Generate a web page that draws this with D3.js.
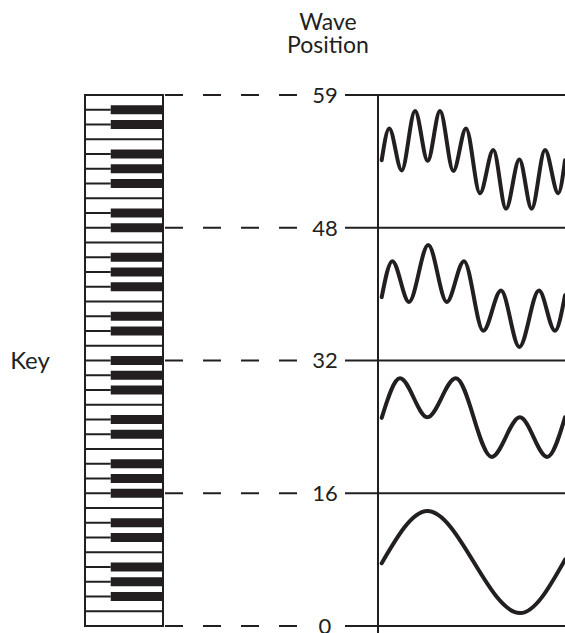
<!DOCTYPE html>
<html>
<head>
<meta charset="UTF-8" />
<script src="https://d3js.org/d3.v7.min.js"></script>
<style>
  html, body { margin: 0; padding: 0; background: #fff; }
  svg { display: block; }
  text { font-family: Lato, "Open Sans", sans-serif; fill: #231f20; }
</style>
</head>
<body>
<div id="chart"></div>
<script>
// wave position ticks, top to bottom
const tickLabels = [59, 48, 32, 16, 0];

// keyboard: 5 octaves starting on E, plus a closing E
const octaveNotes = ['E', 'F', 'F#', 'G', 'G#', 'A', 'A#', 'B', 'C', 'C#', 'D', 'D#'];
const octaveCount = 5;

// waveforms (extrema), one per panel, top to bottom
const wave1U = [0, 4.1, 10.9, 18.2, 25.1, 31.8, 39.1, 46.0, 53.6, 60.9, 67.8, 75.1, 81.8, 89.1, 96.3, 100];
const wave1V = [0.02, 0.55, -0.15, 0.84, 0.01, 0.84, -0.16, 0.55, -0.53, 0.19, -0.79, 0.03, -0.79, 0.19, -0.53, 0.02];
const wave2U = [0, 5.8, 14.9, 25.4, 35.5, 44.9, 55.4, 65.1, 75.1, 85.8, 94.5, 100];
const wave2V = [-0.05, 0.55, -0.13, 0.82, -0.13, 0.55, -0.61, 0.06, -0.88, 0.06, -0.61, -0.02];
const wave3U = [0, 10.0, 24.9, 40.4, 60.0, 75.4, 90.3, 100];
const wave3V = [0.15, 0.81, 0.16, 0.81, -0.50, 0.16, -0.50, 0.16];
const wave4U = [0, 24.9, 75.5, 100];
const wave4V = [-0.06, 0.81, -0.89, 0.0];

const waves = [[wave1U, wave1V], [wave2U, wave2V], [wave3U, wave3V], [wave4U, wave4V]];

const width = 565, height = 633;
const ink = '#231f20';

const svg = d3.select('#chart').append('svg')
  .attr('width', width).attr('height', height);

const yTick = d3.scalePoint().domain(tickLabels).range([95, 626]);

// ---- keyboard ----
const keys = [];
for (let o = 0; o < octaveCount; o++) octaveNotes.forEach(n => keys.push(n));
keys.push('E');

const blackAt = [];
let w = -1;
keys.forEach(n => {
  if (n.includes('#')) blackAt.push(w + 1);
  else w++;
});
const whiteCount = w + 1;

const yKey = d3.scaleLinear().domain([0, whiteCount]).range([626, 95]);
const xKey = d3.scaleLinear().domain([0, 1]).range([85, 163]);
const blackStart = 0.33, blackH = 9;

const kb = svg.append('g');
kb.append('rect')
  .attr('x', xKey(0)).attr('y', yKey(whiteCount))
  .attr('width', xKey(1) - xKey(0)).attr('height', yKey(0) - yKey(whiteCount))
  .attr('fill', 'none').attr('stroke', ink).attr('stroke-width', 2);

const boundaries = d3.range(1, whiteCount);
kb.selectAll('.wline').data(boundaries).join('line')
  .attr('x1', xKey(0))
  .attr('x2', d => blackAt.includes(d) ? xKey(blackStart) : xKey(1))
  .attr('y1', d => yKey(d)).attr('y2', d => yKey(d))
  .attr('stroke', ink).attr('stroke-width', 2);

kb.selectAll('.bkey').data(blackAt).join('rect')
  .attr('x', xKey(blackStart)).attr('width', xKey(1) - xKey(blackStart))
  .attr('y', d => yKey(d) - blackH / 2).attr('height', blackH)
  .attr('fill', ink);

// ---- tick lines and labels ----
const labelX = 325;
svg.selectAll('.dash').data(tickLabels).join('line')
  .attr('x1', 165).attr('x2', 297)
  .attr('y1', d => yTick(d)).attr('y2', d => yTick(d))
  .attr('stroke', ink).attr('stroke-width', 2)
  .attr('stroke-dasharray', '18,20');

svg.selectAll('.solid').data(tickLabels).join('line')
  .attr('x1', 345).attr('x2', width)
  .attr('y1', d => yTick(d)).attr('y2', d => yTick(d))
  .attr('stroke', ink).attr('stroke-width', 2);

svg.selectAll('.tlabel').data(tickLabels).join('text')
  .attr('x', labelX).attr('y', d => yTick(d)).attr('dy', '0.36em')
  .attr('text-anchor', 'middle').attr('font-size', 22)
  .text(d => d);

svg.append('line')
  .attr('x1', 378).attr('x2', 378)
  .attr('y1', yTick(tickLabels[0])).attr('y2', height)
  .attr('stroke', ink).attr('stroke-width', 2);

// ---- waves ----
const xWave = d3.scaleLinear().domain([0, 100]).range([381.7, 565]);
waves.forEach(([us, vs], i) => {
  const mid = (yTick(tickLabels[i]) + yTick(tickLabels[i + 1])) / 2;
  const yWave = d3.scaleLinear().domain([-1, 1]).range([mid + 60, mid - 60]);
  const line = d3.line()
    .x((d, j) => xWave(us[j]))
    .y(d => yWave(d))
    .curve(d3.curveMonotoneX);
  svg.append('path')
    .attr('d', line(vs))
    .attr('fill', 'none').attr('stroke', ink)
    .attr('stroke-width', 4).attr('stroke-linecap', 'round');
});

// ---- titles ----
const title = svg.append('text')
  .attr('text-anchor', 'middle').attr('font-size', 23);
title.append('tspan').attr('x', 328).attr('y', 30).text('Wave');
title.append('tspan').attr('x', 328).attr('y', 53).text('Position');

svg.append('text').attr('x', 30).attr('y', 369)
  .attr('text-anchor', 'middle').attr('font-size', 24).text('Key');
</script>
</body>
</html>
